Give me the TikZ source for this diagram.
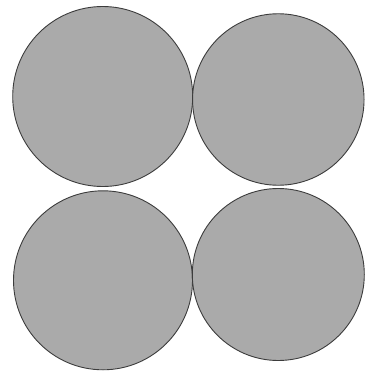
\documentclass[tikz,border=0pt]{standalone}
\usepackage{xcolor}
\usepackage{tikz}
\definecolor{discfill}{RGB}{170,170,170}
\definecolor{discline}{RGB}{60,60,60}

\begin{document}
\begin{tikzpicture}[
  x=1pt, y=-1pt,
  disc/.style={circle, draw=discline, fill=discfill, line width=0.9pt,
               inner sep=0pt}
]
  \useasboundingbox (0,0) rectangle (365,372);
  \node[disc, minimum size=180pt] (tl) at (102.7,96.5) {};
  \node[disc, minimum size=171.5pt] (tr) at (278.3,99.5) {};
  \node[disc, minimum size=179pt] (bl) at (103,280.3) {};
  \node[disc, minimum size=172pt] (br) at (278.3,274.5) {};
\end{tikzpicture}
\end{document}
